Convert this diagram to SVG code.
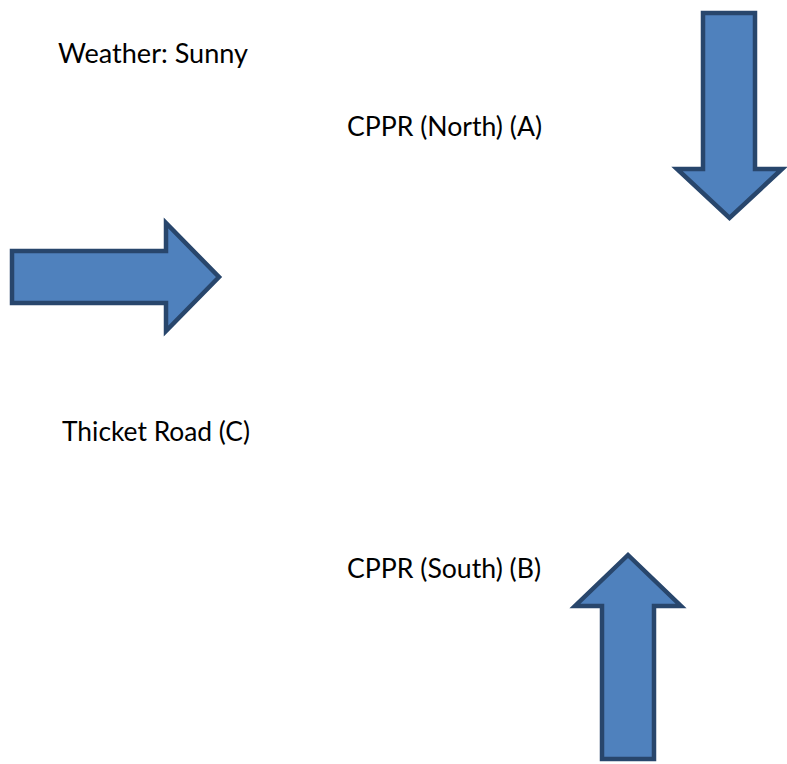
<svg xmlns="http://www.w3.org/2000/svg" width="787" height="764" viewBox="0 0 787 764">
  <style>
    .lbl { font-family: Lato, "Liberation Sans", sans-serif; font-size: 26px; fill: #000; }
    .arrow { fill: #4F81BD; stroke: #28466C; stroke-width: 4.5; stroke-linejoin: miter; stroke-miterlimit: 10; }
  </style>
  <rect width="787" height="764" fill="#FFFFFF"/>
  <g id="weather">
    <text class="lbl" x="58" y="63" textLength="190" lengthAdjust="spacingAndGlyphs">Weather: Sunny</text>
  </g>
  <g id="north-label">
    <text class="lbl" x="347" y="136" textLength="195" lengthAdjust="spacingAndGlyphs">CPPR (North) (A)</text>
  </g>
  <g id="thicket-label">
    <text class="lbl" x="62" y="441" textLength="188" lengthAdjust="spacingAndGlyphs">Thicket Road (C)</text>
  </g>
  <g id="south-label">
    <text class="lbl" x="347" y="578" textLength="194" lengthAdjust="spacingAndGlyphs">CPPR (South) (B)</text>
  </g>
  <g id="connectors">
    <path id="arrow-down" class="arrow" d="M703,13 H755 V169 H782 L729.5,218 L677,169 H703 Z"/>
    <path id="arrow-right" class="arrow" d="M12,251 H166 V223 L219,277 L166,331 V303 H12 Z"/>
    <path id="arrow-up" class="arrow" d="M602,759 V606 H575 L628,555 L681,606 H654 V759 Z"/>
  </g>
</svg>
